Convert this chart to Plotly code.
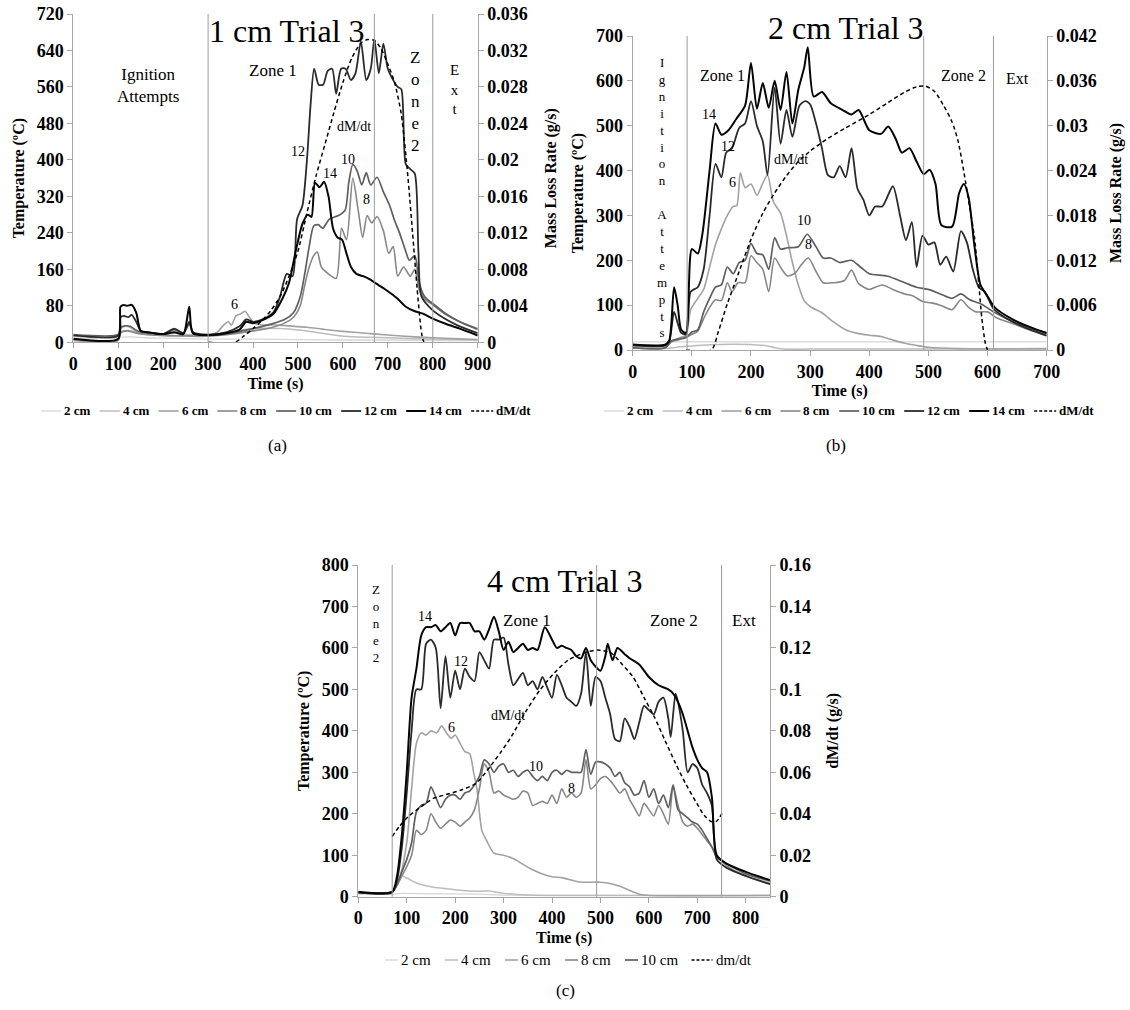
import plotly.graph_objects as go

W, H = 1130, 1010
SERIF = "Liberation Serif"

# ======================= DATA =======================
# ---- (a) 1 cm Trial 3 : (time s, temperature C) ----
a_2cm = [(0, 9), (100, 9), (105, 11), (130, 12), (160, 10), (200, 9), (250, 8), (300, 7), (400, 7), (500, 6),
         (600, 5), (700, 5), (800, 4), (900, 4)]
a_4cm = [(0, 13), (100, 13), (105, 28), (115, 35), (125, 33), (140, 24), (160, 20), (200, 17), (230, 20), (260, 17),
         (300, 16), (340, 22), (380, 28), (420, 31), (460, 30), (500, 27), (540, 22), (580, 16), (620, 12), (660, 11),
         (700, 10), (760, 8), (800, 7), (900, 5)]
a_6cm = [(0, 4), (100, 4), (105, 22), (120, 26), (140, 22), (160, 18), (200, 15), (240, 14), (280, 13), (300, 14),
         (320, 22), (335, 38), (345, 45), (352, 38), (362, 58), (372, 62), (382, 68), (392, 55), (402, 42), (420, 38),
         (450, 38), (480, 36), (520, 33), (560, 28), (600, 24), (650, 20), (700, 16), (760, 12), (800, 10), (900, 6)]
a_8cm = [(0, 5), (100, 5), (105, 20), (120, 25), (140, 20), (160, 17), (200, 15), (260, 14), (300, 14), (350, 18),
         (400, 25), (440, 32), (470, 42), (490, 55), (505, 80), (515, 125), (525, 165), (535, 190), (543, 198),
         (552, 165), (565, 152), (585, 140), (597, 250), (608, 225), (622, 360), (634, 290), (644, 230), (654, 278),
         (664, 262), (676, 276), (690, 245), (702, 195), (712, 210), (722, 145), (735, 165), (750, 145), (760, 160),
         (770, 115), (782, 95), (800, 82), (830, 60), (860, 45), (900, 30)]
a_10cm = [(0, 17), (100, 17), (105, 32), (115, 36), (127, 35), (137, 28), (150, 22), (170, 21), (200, 18), (225, 28),
          (245, 20), (258, 40), (268, 20), (300, 15), (350, 20), (400, 30), (440, 40), (470, 50), (490, 65),
          (505, 100), (515, 150), (525, 210), (535, 255), (545, 258), (555, 250), (570, 270), (590, 278), (605, 290),
          (613, 350), (622, 390), (632, 375), (642, 345), (652, 372), (662, 345), (676, 362), (690, 330), (704, 300),
          (714, 270), (726, 240), (738, 205), (748, 180), (760, 190), (770, 130), (782, 100), (800, 85), (830, 62),
          (860, 45), (900, 28)]
a_12cm = [(0, 15), (100, 15), (105, 55), (113, 58), (122, 55), (130, 60), (140, 45), (150, 25), (165, 22), (200, 18),
          (225, 30), (245, 20), (258, 45), (266, 22), (300, 17), (340, 22), (370, 35), (385, 50), (400, 45), (420, 50),
          (445, 65), (460, 100), (475, 150), (488, 145), (498, 270), (510, 300), (520, 400), (528, 520), (536, 600),
          (546, 565), (556, 565), (566, 595), (576, 600), (585, 545), (596, 600), (606, 600), (618, 575), (628, 590),
          (640, 660), (652, 575), (662, 600), (670, 665), (680, 590), (690, 655), (700, 600), (712, 575), (722, 560),
          (730, 555), (740, 390), (750, 380), (760, 370), (768, 200), (775, 100), (800, 70), (830, 50), (860, 35),
          (900, 20)]
a_14cm = [(0, 8), (100, 8), (105, 78), (112, 82), (120, 80), (130, 82), (140, 65), (150, 25), (165, 22), (200, 18),
          (225, 22), (245, 18), (258, 78), (266, 20), (300, 16), (340, 20), (370, 28), (385, 45), (400, 42), (420, 48),
          (445, 62), (465, 95), (480, 130), (495, 200), (510, 260), (522, 280), (530, 275), (538, 350), (548, 340),
          (558, 352), (568, 320), (578, 250), (588, 230), (598, 225), (608, 195), (618, 165), (630, 150), (645, 145),
          (660, 138), (680, 125), (700, 112), (720, 97), (740, 78), (760, 68), (780, 62), (800, 52), (830, 40),
          (860, 30), (900, 15)]
a_dmdt = [(300, 0), (360, 0), (380, 0.0007), (400, 0.0015), (420, 0.0024), (440, 0.0035), (460, 0.005), (480, 0.0072),
          (500, 0.0100), (520, 0.0142), (540, 0.0182), (560, 0.0217), (580, 0.0252), (600, 0.0285), (620, 0.0312),
          (640, 0.0328), (655, 0.0332), (670, 0.0331), (685, 0.0322), (700, 0.0305), (715, 0.0285), (730, 0.025),
          (745, 0.018), (755, 0.012), (765, 0.006), (775, 0.001), (780, 0)]

# ---- (b) 2 cm Trial 3 ----
b_2cm = [(0, 18), (100, 18), (200, 18), (300, 18), (400, 18), (500, 18), (600, 18), (700, 18)]
b_4cm = [(0, 4), (60, 4), (80, 7), (110, 10), (140, 12), (170, 13), (200, 12), (225, 10), (240, 5), (255, 2),
         (300, 2), (700, 2)]
b_6cm = [(0, 5), (55, 5), (65, 18), (80, 28), (90, 32), (98, 90), (110, 115), (120, 135), (130, 185), (140, 235),
         (150, 270), (160, 300), (170, 320), (176, 322), (182, 395), (190, 362), (200, 370), (210, 345), (220, 372),
         (228, 390), (238, 330), (250, 305), (260, 255), (270, 195), (280, 145), (290, 110), (300, 97), (320, 83),
         (340, 62), (360, 45), (380, 37), (400, 33), (420, 30), (440, 22), (460, 15), (480, 10), (500, 6), (550, 3),
         (700, 3)]
b_8cm = [(0, 5), (55, 5), (65, 18), (75, 22), (90, 28), (100, 35), (110, 42), (120, 70), (130, 95), (140, 112),
         (150, 110), (160, 150), (168, 130), (178, 150), (190, 150), (200, 210), (210, 195), (220, 180), (230, 130),
         (240, 205), (252, 180), (262, 165), (275, 172), (285, 190), (297, 205), (310, 175), (322, 150), (340, 150),
         (358, 155), (370, 178), (382, 148), (400, 135), (410, 140), (422, 145), (440, 135), (460, 125), (475, 120),
         (490, 108), (505, 105), (520, 100), (540, 90), (555, 112), (568, 95), (580, 85), (600, 85), (615, 72),
         (640, 60), (670, 45), (700, 32)]
b_10cm = [(0, 5), (55, 5), (65, 20), (75, 24), (90, 28), (100, 40), (110, 45), (120, 85), (130, 115), (140, 140),
          (150, 145), (160, 185), (170, 170), (180, 195), (190, 200), (200, 237), (210, 215), (220, 212), (230, 180),
          (240, 250), (250, 225), (262, 228), (280, 230), (295, 258), (310, 230), (322, 205), (335, 205), (350, 195),
          (370, 200), (385, 185), (400, 170), (430, 165), (460, 150), (480, 140), (500, 135), (520, 125), (540, 115),
          (555, 125), (570, 112), (590, 102), (610, 85), (640, 65), (670, 50), (700, 37)]
b_12cm = [(0, 10), (55, 10), (62, 20), (70, 85), (76, 60), (82, 38), (90, 35), (98, 130), (110, 140), (120, 180),
          (130, 300), (140, 415), (150, 385), (158, 440), (168, 450), (180, 495), (190, 505), (200, 555), (210, 500),
          (220, 465), (228, 390), (240, 585), (250, 460), (260, 535), (270, 475), (282, 545), (292, 555), (300, 548),
          (310, 505), (320, 450), (330, 390), (340, 385), (350, 410), (360, 385), (370, 450), (380, 360), (390, 335),
          (400, 300), (410, 320), (422, 320), (440, 365), (452, 300), (462, 245), (472, 285), (480, 185), (490, 255),
          (500, 235), (510, 240), (520, 190), (530, 208), (542, 175), (555, 265), (565, 240), (575, 180), (585, 140),
          (595, 130), (610, 92), (630, 72), (660, 52), (700, 32)]
b_14cm = [(0, 12), (55, 12), (62, 22), (70, 140), (76, 100), (82, 45), (90, 38), (100, 225), (110, 215), (118, 260),
          (130, 400), (140, 505), (150, 480), (162, 490), (175, 515), (190, 545), (200, 640), (210, 538), (220, 595),
          (230, 540), (240, 600), (250, 535), (260, 620), (270, 505), (280, 580), (290, 630), (296, 675), (306, 565),
          (320, 575), (335, 550), (355, 535), (370, 525), (382, 535), (400, 490), (420, 482), (432, 498), (445, 470),
          (455, 440), (468, 450), (480, 420), (492, 392), (502, 402), (512, 370), (522, 278), (540, 275), (552, 350),
          (560, 370), (568, 340), (578, 230), (588, 145), (600, 120), (612, 95), (640, 70), (670, 52), (700, 38)]
b_dmdt = [(90, 0), (133, 0), (145, 0.0025), (160, 0.0062), (180, 0.0105), (200, 0.0148), (220, 0.0183),
          (240, 0.021), (260, 0.0233), (280, 0.0252), (300, 0.0266), (330, 0.0283), (360, 0.0297), (400, 0.0315),
          (430, 0.033), (460, 0.0345), (480, 0.0352), (495, 0.0353), (510, 0.0346), (525, 0.0328), (540, 0.0305),
          (550, 0.028), (560, 0.0238), (570, 0.019), (578, 0.015), (585, 0.009), (590, 0.0045), (596, 0.001),
          (600, 0)]

# ---- (c) 4 cm Trial 3 ----
c_2cm = [(0, 6), (70, 6), (90, 8), (150, 7), (250, 6), (300, 4), (400, 3), (850, 3)]
c_4cm = [(0, 10), (70, 12), (80, 35), (90, 50), (100, 45), (120, 33), (150, 24), (200, 17), (250, 13), (270, 14),
         (300, 8), (350, 4), (400, 3), (850, 3)]
c_6cm = [(0, 10), (70, 12), (85, 45), (100, 130), (110, 260), (120, 370), (130, 395), (140, 390), (150, 400),
         (162, 395), (172, 412), (182, 395), (192, 382), (200, 390), (210, 370), (220, 350), (230, 345), (238, 300),
         (245, 260), (255, 160), (265, 135), (280, 105), (300, 100), (320, 92), (340, 78), (360, 65), (380, 55),
         (400, 48), (420, 46), (440, 40), (460, 35), (500, 35), (520, 32), (540, 25), (560, 15), (580, 6), (600, 3),
         (850, 3)]
c_8cm = [(0, 10), (70, 12), (90, 50), (110, 100), (120, 160), (130, 150), (140, 160), (150, 200), (160, 180),
         (170, 165), (180, 175), (190, 185), (200, 180), (210, 170), (220, 180), (230, 190), (240, 210), (250, 260),
         (260, 320), (270, 300), (280, 250), (290, 255), (300, 245), (310, 240), (320, 235), (330, 240), (340, 255),
         (350, 250), (360, 220), (370, 225), (380, 230), (390, 225), (400, 245), (410, 225), (420, 260), (430, 240),
         (440, 250), (450, 240), (460, 250), (470, 330), (480, 260), (490, 270), (500, 285), (510, 290), (520, 280),
         (530, 265), (540, 250), (550, 260), (560, 235), (570, 215), (580, 195), (590, 225), (600, 210), (610, 195),
         (620, 220), (630, 200), (640, 175), (650, 265), (660, 220), (670, 180), (680, 170), (690, 175), (700, 165),
         (710, 150), (720, 135), (730, 120), (740, 100), (760, 75), (800, 50), (850, 32)]
c_10cm = [(0, 10), (70, 12), (80, 30), (90, 60), (100, 90), (110, 130), (120, 205), (130, 220), (140, 225), (150, 265),
          (160, 240), (170, 215), (180, 235), (190, 245), (200, 245), (210, 235), (220, 250), (230, 255), (240, 270),
          (250, 290), (260, 330), (270, 320), (280, 300), (290, 315), (300, 320), (310, 300), (320, 305), (330, 290),
          (340, 300), (350, 305), (360, 290), (370, 280), (380, 290), (390, 280), (400, 300), (410, 305), (420, 295),
          (430, 305), (440, 300), (450, 300), (460, 300), (470, 355), (480, 295), (490, 325), (500, 325), (510, 320),
          (520, 310), (530, 290), (540, 300), (550, 275), (560, 265), (570, 245), (580, 250), (590, 280), (600, 240),
          (610, 260), (620, 225), (630, 245), (640, 215), (650, 270), (660, 210), (670, 200), (680, 190), (690, 180),
          (700, 175), (710, 160), (720, 140), (730, 120), (740, 95), (760, 80), (800, 55), (850, 38)]
c_12cm = [(0, 10), (70, 10), (80, 40), (90, 120), (100, 250), (110, 400), (120, 500), (130, 500), (140, 610),
          (150, 620), (160, 600), (170, 455), (180, 580), (190, 480), (200, 545), (210, 500), (220, 550), (230, 530),
          (240, 520), (250, 590), (260, 570), (270, 550), (280, 620), (290, 620), (300, 625), (310, 560), (320, 510),
          (330, 525), (340, 540), (350, 510), (360, 520), (370, 500), (380, 530), (390, 505), (400, 480), (410, 535),
          (420, 510), (430, 480), (440, 470), (450, 460), (460, 490), (470, 590), (480, 460), (490, 530), (500, 520),
          (510, 480), (520, 440), (530, 380), (540, 375), (550, 430), (560, 410), (570, 380), (580, 420), (590, 460),
          (600, 450), (610, 440), (620, 470), (630, 480), (640, 430), (645, 385), (655, 490), (660, 470), (670, 400),
          (680, 300), (690, 320), (700, 310), (710, 270), (720, 250), (730, 220), (740, 90), (760, 70), (800, 50),
          (850, 30)]
c_14cm = [(0, 12), (70, 12), (80, 50), (90, 150), (100, 300), (110, 480), (120, 550), (130, 630), (140, 650),
          (150, 650), (160, 655), (170, 640), (180, 650), (190, 660), (200, 630), (210, 660), (220, 660), (230, 660),
          (240, 640), (250, 640), (260, 620), (270, 645), (280, 675), (290, 640), (300, 595), (310, 615), (320, 590),
          (330, 600), (340, 610), (350, 595), (360, 600), (370, 595), (385, 650), (400, 620), (410, 600), (420, 605),
          (430, 600), (440, 595), (450, 580), (460, 575), (470, 600), (480, 570), (490, 555), (500, 545), (510, 580),
          (515, 610), (525, 570), (535, 600), (550, 585), (560, 575), (580, 560), (600, 530), (620, 510), (640, 500),
          (650, 490), (660, 470), (670, 440), (680, 400), (690, 360), (700, 330), (710, 310), (720, 300), (730, 240),
          (740, 100), (760, 80), (800, 60), (850, 40)]
c_dmdt = [(70, 0.029), (85, 0.034), (103, 0.0386), (130, 0.0435), (155, 0.0474), (185, 0.0495), (213, 0.0515),
          (243, 0.0547), (272, 0.0627), (295, 0.07), (316, 0.0772), (345, 0.089), (375, 0.0997), (405, 0.108),
          (434, 0.1142), (465, 0.1175), (493, 0.119), (523, 0.1174), (545, 0.112), (567, 0.1061), (590, 0.096),
          (611, 0.0868), (633, 0.0755), (655, 0.0643), (677, 0.054), (699, 0.045), (715, 0.039), (729, 0.0362),
          (740, 0.0365), (751, 0.0402)]

# zone boundaries (s)
a_zone_lines = [300, 670, 800]
b_zone_lines = [92, 492, 610]
c_zone_lines = [70, 492, 750]

# tick values
a_time_ticks = [0, 100, 200, 300, 400, 500, 600, 700, 800, 900]
a_temp_ticks = [0, 80, 160, 240, 320, 400, 480, 560, 640, 720]
a_rate_ticks = [0, 0.004, 0.008, 0.012, 0.016, 0.02, 0.024, 0.028, 0.032, 0.036]
b_time_ticks = [0, 100, 200, 300, 400, 500, 600, 700]
b_temp_ticks = [0, 100, 200, 300, 400, 500, 600, 700]
b_rate_ticks = [0, 0.006, 0.012, 0.018, 0.024, 0.03, 0.036, 0.042]
c_time_ticks = [0, 100, 200, 300, 400, 500, 600, 700, 800]
c_temp_ticks = [0, 100, 200, 300, 400, 500, 600, 700, 800]
c_rate_ticks = [0, 0.02, 0.04, 0.06, 0.08, 0.1, 0.12, 0.14, 0.16]

# ======================= STYLE =======================
STY = {"2 cm": ("#d6d6d6", 1.3), "4 cm": ("#bcbcbc", 1.5), "6 cm": ("#a2a2a2", 1.6),
       "8 cm": ("#878787", 1.6), "10 cm": ("#5f5f5f", 1.7), "12 cm": ("#2a2a2a", 1.8),
       "14 cm": ("#050505", 2.0)}
DASH = "4px,3px"

fig = go.Figure()


def add_series(pairs, xa, ya, color, width, dash=None):
    fig.add_trace(go.Scatter(x=[p[0] for p in pairs], y=[p[1] for p in pairs], xaxis=xa, yaxis=ya,
                             mode="lines", showlegend=False, hoverinfo="skip",
                             line=dict(color=color, width=width, dash=dash, shape="spline", smoothing=0.7)))


charts = [
    ("x", "y", "y2", [("2 cm", a_2cm), ("4 cm", a_4cm), ("6 cm", a_6cm), ("8 cm", a_8cm), ("10 cm", a_10cm),
                      ("12 cm", a_12cm), ("14 cm", a_14cm)], a_dmdt),
    ("x2", "y3", "y4", [("2 cm", b_2cm), ("4 cm", b_4cm), ("6 cm", b_6cm), ("8 cm", b_8cm), ("10 cm", b_10cm),
                        ("12 cm", b_12cm), ("14 cm", b_14cm)], b_dmdt),
    ("x3", "y5", "y6", [("2 cm", c_2cm), ("4 cm", c_4cm), ("6 cm", c_6cm), ("8 cm", c_8cm), ("10 cm", c_10cm),
                        ("12 cm", c_12cm), ("14 cm", c_14cm)], c_dmdt),
]
for xa, ya, ya2, series, dmdt in charts:
    for name, pairs in series:
        col, wid = STY[name]
        add_series(pairs, xa, ya, col, wid)
    add_series(dmdt, xa, ya2, "#000000", 1.5, DASH)


def dx(x0, x1):
    return [x0 / W, x1 / W]


def dy(y0, y1):
    return [1 - y1 / H, 1 - y0 / H]


TICKFONT = dict(family=SERIF, size=18, color="black")
TITLEFONT = dict(family=SERIF, size=16, color="black", weight="bold")
AX = dict(showline=True, linecolor="#a6a6a6", linewidth=1, ticks="outside", ticklen=5, tickcolor="#a6a6a6",
          showgrid=False, zeroline=False, tickfont=TICKFONT, automargin=False, tickmode="array")


def bold_ticks(vals):
    return dict(tickvals=vals, ticktext=["<b>%s</b>" % format(v, "g") for v in vals])


def xax(dom, anchor, rng, ticks, title):
    return dict(domain=dom, anchor=anchor, range=rng, **bold_ticks(ticks),
                title=dict(text=title, font=TITLEFONT, standoff=4), **AX)


def yax(dom, anchor, rng, ticks, title):
    return dict(domain=dom, anchor=anchor, range=rng, **bold_ticks(ticks),
                title=dict(text=title, font=TITLEFONT, standoff=8), **AX)


def yax_r(over, anchor, rng, ticks, title, standoff):
    return dict(overlaying=over, side="right", anchor=anchor, range=rng, **bold_ticks(ticks),
                title=dict(text=title, font=TITLEFONT, standoff=standoff), **AX)


TEMP = "Temperature (\u00baC)"
fig.update_layout(
    width=W, height=H, margin=dict(l=0, r=0, t=0, b=0), template="none",
    paper_bgcolor="white", plot_bgcolor="white", showlegend=False,
    xaxis=xax(dx(73.3, 477.7), "y", [0, 900], a_time_ticks, "Time (s)"),
    yaxis=yax(dy(14, 342.3), "x", [0, 720], a_temp_ticks, TEMP),
    yaxis2=yax_r("y", "x", [0, 0.036], a_rate_ticks, "Mass Loss Rate (g/s)", 18),
    xaxis2=xax(dx(632.7, 1046.7), "y3", [0, 700], b_time_ticks, "Time (s)"),
    yaxis3=yax(dy(36, 350), "x2", [0, 700], b_temp_ticks, TEMP),
    yaxis4=yax_r("y3", "x2", [0, 0.042], b_rate_ticks, "Mass Loss Rate (g/s)", 14),
    xaxis3=xax(dx(358.3, 770), "y5", [0, 850], c_time_ticks, "Time (s)"),
    yaxis5=yax(dy(565, 896.7), "x3", [0, 800], c_temp_ticks, TEMP),
    yaxis6=yax_r("y5", "x3", [0, 0.16], c_rate_ticks, "dM/dt (g/s)", 16),
)

# zone boundary lines
for xa, ya, lines in [("x", "y", a_zone_lines), ("x2", "y3", b_zone_lines), ("x3", "y5", c_zone_lines)]:
    for t in lines:
        fig.add_shape(type="line", xref=xa, yref=ya + " domain", x0=t, x1=t, y0=0, y1=1,
                      line=dict(color="#9c9c9c", width=1))

# in-plot text labels: (text, time, temperature, font size)
a_notes = [("Ignition<br>Attempts", 166, 563, 17), ("Zone 1", 444, 597, 17),
           ("Z<br>o<br>n<br>e<br>2", 761, 528, 17), ("E<br>x<br>t", 848, 555, 15),
           ("dM/dt", 624, 474, 14), ("12", 500, 418, 14), ("14", 572, 371, 14), ("10", 612, 401, 14),
           ("8", 652, 314, 14), ("6", 358, 82, 14)]
b_notes = [("I<br>g<br>n<br>i<br>t<br>i<br>o<br>n<br>&nbsp;<br>A<br>t<br>t<br>e<br>m<br>p<br>t<br>s", 49, 340, 13),
           ("Zone 1", 151, 613, 16), ("Zone 2", 560, 613, 16), ("Ext", 651, 606, 16),
           ("14", 129, 524, 14), ("12", 161, 453, 14), ("6", 169, 373, 14), ("dM/dt", 268, 424, 14),
           ("10", 290, 288, 14), ("8", 297, 236, 14)]
c_notes = [("Z<br>o<br>n<br>e<br>2", 36, 658, 13), ("14", 138, 675, 14), ("Zone 1", 349, 667, 17),
           ("Zone 2", 652, 667, 17), ("Ext", 797, 667, 17), ("12", 211, 567, 14), ("dM/dt", 310, 438, 14),
           ("6", 193, 408, 14), ("10", 366, 314, 14), ("8", 441, 261, 14)]
for xa, ya, notes in [("x", "y", a_notes), ("x2", "y3", b_notes), ("x3", "y5", c_notes)]:
    for txt, t, v, fs in notes:
        fig.add_annotation(text=txt, x=t, y=v, xref=xa, yref=ya, showarrow=False,
                           xanchor="center", yanchor="middle",
                           font=dict(family=SERIF, size=fs, color="#000000"))

# chart titles & captions (paper positions in px)
texts = [("1 cm Trial 3", 287, 31, 32), ("2 cm Trial 3", 846, 28, 32), ("4 cm Trial 3", 565, 581, 32),
         ("(a)", 277, 446, 17), ("(b)", 836, 446, 17), ("(c)", 565, 990, 17)]
for txt, px, py, fs in texts:
    fig.add_annotation(text=txt, x=px / W, y=1 - py / H, xref="paper", yref="paper", showarrow=False,
                       xanchor="center", yanchor="middle", font=dict(family=SERIF, size=fs, color="black"))

# legends (drawn as rows of line samples + labels)
legend_ab = ["2 cm", "4 cm", "6 cm", "8 cm", "10 cm", "12 cm", "14 cm", "dM/dt"]
legend_c = ["2 cm", "4 cm", "6 cm", "8 cm", "10 cm", "dm/dt"]


def legend_row(labels, x_start, y_px, font, solid_len, dash_len, step0, stepc):
    x = x_start
    yp = 1 - y_px / H
    for lab in labels:
        if lab.lower() == "dm/dt":
            col, wid, dash, L = "#000000", 1.3, "3px,2px", dash_len
        else:
            col, wid = STY[lab]
            dash, L = None, solid_len
        fig.add_shape(type="line", xref="paper", yref="paper", x0=x / W, x1=(x + L) / W, y0=yp, y1=yp,
                      line=dict(color=col, width=wid, dash=dash))
        fig.add_annotation(text=lab, x=(x + L + 1) / W, y=yp, xref="paper", yref="paper", showarrow=False,
                           xanchor="left", yanchor="middle", font=font)
        x += step0 + stepc * len(lab)


LFONT_AB = dict(family=SERIF, size=13, color="black", weight="bold")
LFONT_C = dict(family=SERIF, size=15, color="black")
legend_row(legend_ab, 41, 411, LFONT_AB, 20, 22, 34, 6.2)
legend_row(legend_ab, 604, 411, LFONT_AB, 20, 22, 34, 6.2)
legend_row(legend_c, 385, 960, LFONT_C, 13, 21, 34, 6.5)

fig.write_html("out.html")
